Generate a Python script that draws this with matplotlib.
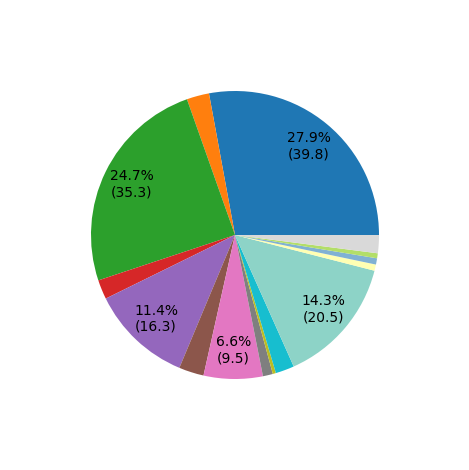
import matplotlib
matplotlib.use("Agg")
import matplotlib.pyplot as plt

values = [39.84, 3.6, 35.26, 3.1, 16.3, 4.0, 9.46, 1.6, 0.5, 3.0, 20.46, 1.0, 1.0, 0.8, 2.9]
colors = ["#1f77b4", "#ff7f0e", "#2ca02c", "#d62728", "#9467bd", "#8c564b", "#e377c2",
          "#7f7f7f", "#bcbd22", "#17becf", "#8dd3c7", "#ffffb3", "#80b1d3", "#b3de69", "#d9d9d9"]
total = sum(values)


def fmt(pct):
    if pct < 5:
        return ""
    return f"{pct:.1f}%\n({pct * total / 100:.1f})"


fig = plt.figure(figsize=(4.69, 4.7), dpi=100)
ax = fig.add_axes([55 / 469, 55 / 470, 360 / 469, 360 / 470])
ax.pie(values, colors=colors, autopct=fmt, pctdistance=0.8, startangle=0, counterclock=True)
ax.set_aspect("equal")
fig.savefig("out.png", dpi=100)
